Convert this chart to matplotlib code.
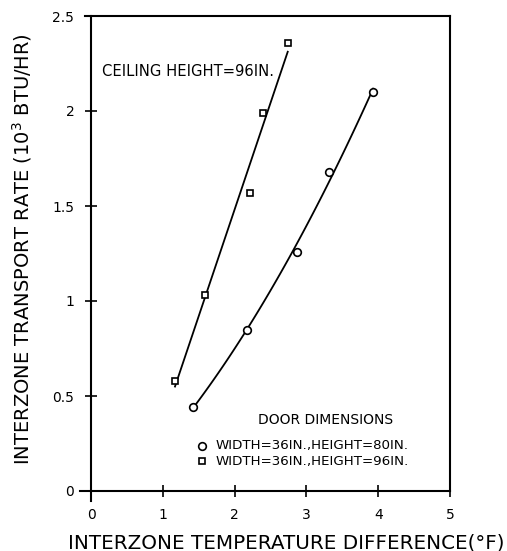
import numpy as np
import matplotlib
matplotlib.use("Agg")
import matplotlib.pyplot as plt

# Data
sq_x = [1.17, 1.59, 2.21, 2.40, 2.74]      # door 36 x 96 in
sq_y = [0.58, 1.03, 1.57, 1.99, 2.36]
ci_x = [1.42, 2.17, 2.87, 3.31, 3.93]      # door 36 x 80 in
ci_y = [0.44, 0.85, 1.26, 1.68, 2.10]

x_ticks = [0, 1, 2, 3, 4, 5]
x_labels = ["0", "1", "2", "3", "4", "5"]
y_ticks = [0, 0.5, 1, 1.5, 2, 2.5]
y_labels = ["0", "0.5", "1", "1.5", "2", "2.5"]

plt.rcParams['font.family'] = ['DejaVu Sans']

fig = plt.figure(figsize=(5.07, 5.51), dpi=100)
ax = fig.add_axes([91/507, 1-491/551, (450-91)/507, (491-16)/551])

for xs, ys, m, ms, deg in [(sq_x, sq_y, 's', 5.0, 1), (ci_x, ci_y, 'o', 5.5, 2)]:
    c = np.polyfit(xs, ys, deg)
    xx = np.linspace(min(xs), max(xs), 100)
    ax.plot(xx, np.polyval(c, xx), color='black', lw=1.3, zorder=2)
    ax.plot(xs, ys, linestyle='none', marker=m, ms=ms, mfc='white',
            mec='black', mew=1.2, zorder=3)

ax.set_xlim(0, 5)
ax.set_ylim(0, 2.5)
ax.set_xticks(x_ticks)
ax.set_xticklabels(x_labels)
ax.set_yticks(y_ticks)
ax.set_yticklabels(y_labels)
ax.tick_params(direction='inout', length=8, width=1.2, labelsize=10, pad=8)

for s in ax.spines.values():
    s.set_linewidth(1.5)
ax.spines['top'].set_bounds(-0.08, 5)
ax.spines['bottom'].set_bounds(-0.15, 5)
ax.spines['left'].set_bounds(-0.05, 2.5)

ax.text(0.15, 2.21, "CEILING HEIGHT=96IN.", fontsize=10.6, ha='left', va='center')

# legend drawn by hand
ax.text(3.26, 0.374, "DOOR DIMENSIONS", fontsize=10, ha='center', va='center')
ax.plot([1.55], [0.238], linestyle='none', marker='o', ms=5.5, mfc='white', mec='black', mew=1.2)
ax.plot([1.55], [0.157], linestyle='none', marker='s', ms=5.0, mfc='white', mec='black', mew=1.2)
ax.text(1.74, 0.238, "WIDTH=36IN.,HEIGHT=80IN.", fontsize=9.6, ha='left', va='center')
ax.text(1.74, 0.157, "WIDTH=36IN.,HEIGHT=96IN.", fontsize=9.6, ha='left', va='center')

fig.text(286/507, 1-543/551, "INTERZONE TEMPERATURE DIFFERENCE(°F)", fontsize=14.3,
         ha='center', va='center')
fig.text(22/507, 1-249/551, "INTERZONE TRANSPORT RATE (10$^3$ BTU/HR)", fontsize=14,
         ha='center', va='center', rotation=90)

fig.savefig("out.png", dpi=100)
